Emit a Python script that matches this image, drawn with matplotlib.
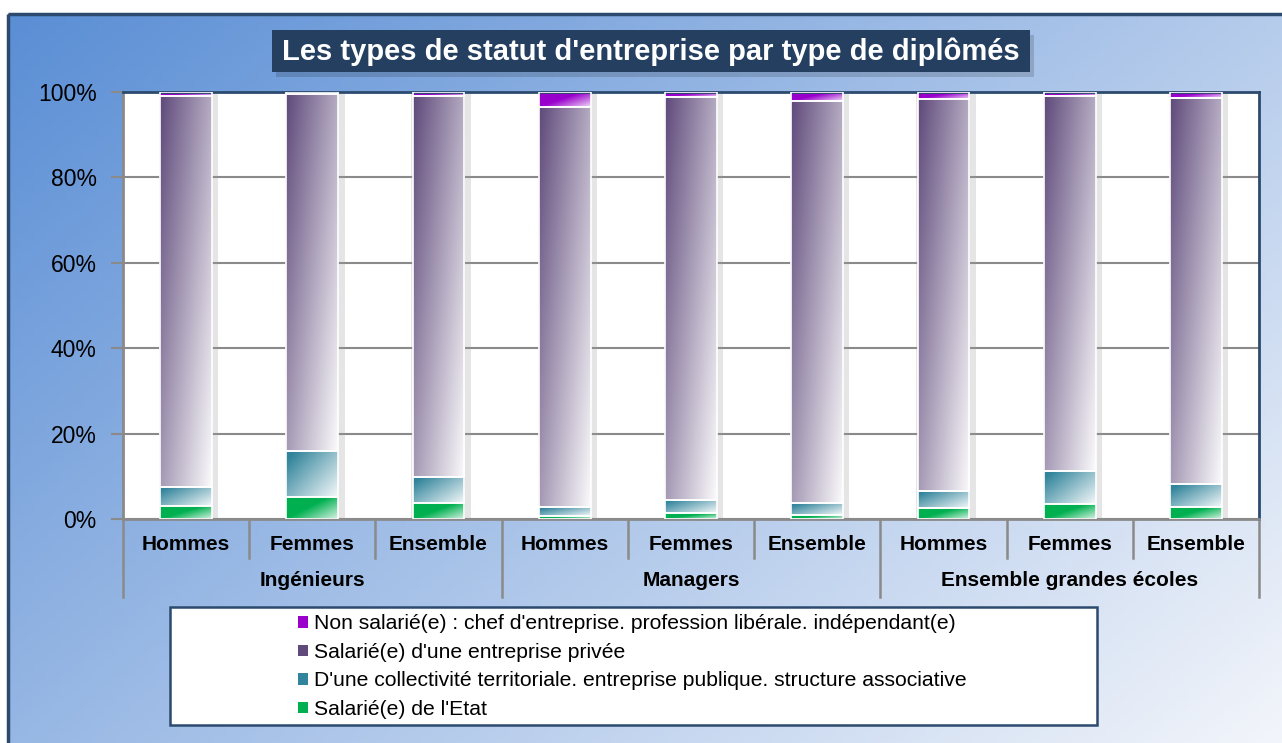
import numpy as np
import matplotlib
matplotlib.use('Agg')
import matplotlib.pyplot as plt
import matplotlib.transforms as mtransforms
from matplotlib.patches import Rectangle, Patch
from matplotlib.ticker import FuncFormatter

plt.rcParams['font.family'] = ['Liberation Sans', 'DejaVu Sans']

W, H = 1282, 743

categories = ['Hommes', 'Femmes', 'Ensemble'] * 3
groups = ['Ingénieurs', 'Managers', 'Ensemble grandes écoles']

etat = [3.0, 5.1, 3.7, 0.8, 1.3, 1.0, 2.6, 3.4, 2.9]
collectivite = [4.6, 10.8, 6.2, 1.9, 3.1, 2.7, 4.0, 7.8, 5.2]
privee = [91.5, 83.6, 89.2, 93.8, 94.5, 94.1, 91.7, 87.9, 90.4]
non_salarie = [0.9, 0.5, 0.9, 3.5, 1.1, 2.2, 1.7, 0.9, 1.5]

series_labels = [
    "Salarié(e) de l'Etat",
    "D'une collectivité territoriale. entreprise publique. structure associative",
    "Salarié(e) d'une entreprise privée",
    "Non salarié(e) : chef d'entreprise. profession libérale. indépendant(e)",
]
series_values = [etat, collectivite, privee, non_salarie]
series_colors = ['#00b050', '#31849b', '#5f4a7b', '#9900cc']
# (mix start, mix end, max lightness) for the diagonal sheen
sheen = [(0.45, 1.0, 0.85), (0.1, 1.0, 0.95), (0.0, 1.0, 0.97), (0.45, 1.0, 0.85)]


def fx(px):
    return px / W


def fy(py):
    return 1 - py / H


def hex_rgb(c):
    return np.array(matplotlib.colors.to_rgb(c))


def gradient(base, lo, hi, amount, n=64):
    xs = np.linspace(0, 1, n)
    ys = np.linspace(0, 1, n)
    xg, yg = np.meshgrid(xs, ys)
    u = 0.55 * xg + 0.45 * (1 - yg)
    t = np.clip((u - lo) / (hi - lo), 0, 1) * amount
    b = hex_rgb(base)
    return b[None, None, :] * (1 - t[..., None]) + np.ones(3)[None, None, :] * t[..., None]


fig = plt.figure(figsize=(W / 100, H / 100), dpi=100)
fig.patch.set_facecolor('white')

# background panel
bg = fig.add_axes([0, 0, 1, 1], zorder=-10)
bg.set_axis_off()
n = 200
xg, yg = np.meshgrid(np.linspace(0, 1, n), np.linspace(0, 1, n))
u = 0.6 * xg + 0.4 * yg
c0, c1 = hex_rgb('#5a8ed5'), hex_rgb('#f4f6fb')
img = c0[None, None, :] * (1 - u[..., None]) + c1[None, None, :] * u[..., None]
bg.imshow(img, extent=(8, W + 10, H + 10, 14), aspect='auto', zorder=0)
bg.add_patch(Rectangle((8, 14), W, H, fill=False, ec='#2c4a6e', lw=2.5, zorder=1))
bg.set_xlim(0, W)
bg.set_ylim(H, 0)

# title
bg.add_patch(Rectangle((276, 35), 758, 42, fc='#000000', alpha=0.15, lw=0, zorder=2))
bg.add_patch(Rectangle((272, 30), 758, 42, fc='#243f60', lw=0, zorder=3))
bg.text(651, 52, "Les types de statut d'entreprise par type de diplômés",
        color='white', fontsize=21, fontweight='bold', ha='center', va='center', zorder=4)

# legend frame
bg.add_patch(Rectangle((170, 607), 927, 118, fc='white', ec='#2c4a6e', lw=1.8, zorder=2))

# main axes
ax = fig.add_axes([fx(123), fy(519), fx(1259 - 123), (519 - 92) / H])
ax.set_facecolor('white')
x = np.arange(len(categories))
bw = 0.41

totals = np.sum(series_values, axis=0)
ax.bar(x + 0.02, totals, width=bw + 0.06, bottom=-0.4, color='#9a9a9a', alpha=0.25, zorder=1.5, lw=0)

bottom = np.zeros(len(x))
for vals, col, (lo, hi, amt) in zip(series_values, series_colors, sheen):
    bars = ax.bar(x, vals, width=bw, bottom=bottom, color=col, lw=0, zorder=2)
    grad = gradient(col, lo, hi, amt)
    for b in bars:
        x0, y0 = b.get_x(), b.get_y()
        im = ax.imshow(grad, extent=(x0, x0 + b.get_width(), y0, y0 + b.get_height()),
                       origin='lower', aspect='auto', zorder=2.5, interpolation='bilinear')
        im.set_clip_path(b)
    ax.bar(x, vals, width=bw, bottom=bottom, fill=False, ec='white', lw=1.2, zorder=3)
    bottom += np.array(vals)

ax.set_xlim(-0.5, len(x) - 0.5)
ax.set_ylim(0, 100)
ax.set_yticks(np.arange(0, 101, 20))
ax.yaxis.set_major_formatter(FuncFormatter(lambda v, p: f'{v:.0f}%'))
ax.tick_params(axis='y', length=9, width=1.5, color='#8a8a8a', labelsize=16.5, pad=10)
ax.set_xticks([])
ax.grid(axis='y', color='#8a8a8a', lw=1.5, zorder=0)
ax.set_axisbelow(True)
for s in ['top', 'right']:
    ax.spines[s].set_color('#2c4a6e')
    ax.spines[s].set_linewidth(2)
for s in ['left', 'bottom']:
    ax.spines[s].set_color('#8a8a8a')
    ax.spines[s].set_linewidth(2)

# category axis
tr = mtransforms.blended_transform_factory(ax.transData, ax.transAxes)
y_cat = (519 - 545) / 427
y_grp = (519 - 581) / 427
y_in = (519 - 558) / 427
y_out = (519 - 597) / 427
for i, lab in enumerate(categories):
    ax.text(i, y_cat, lab, transform=tr, ha='center', va='center',
            fontsize=15, fontweight='bold', clip_on=False)
for k, g in enumerate(groups):
    ax.text(3 * k + 1, y_grp, g, transform=tr, ha='center', va='center',
            fontsize=15, fontweight='bold', clip_on=False)
for i in range(len(categories) + 1):
    edge = i - 0.5
    y_end = y_out if i % 3 == 0 else y_in
    ax.plot([edge, edge], [0, y_end], transform=tr, color='#8a8a8a', lw=1.8, clip_on=False)

# legend
handles = [Patch(facecolor=c, edgecolor='none') for c in series_colors][::-1]
fig.legend(handles, series_labels[::-1], loc='upper left',
           bbox_to_anchor=(fx(290), fy(606)), frameon=False, fontsize=15.2,
           handlelength=0.45, handleheight=0.45, handletextpad=0.3, labelspacing=0.45,
           borderaxespad=0)

fig.savefig('out.png', dpi=100)
